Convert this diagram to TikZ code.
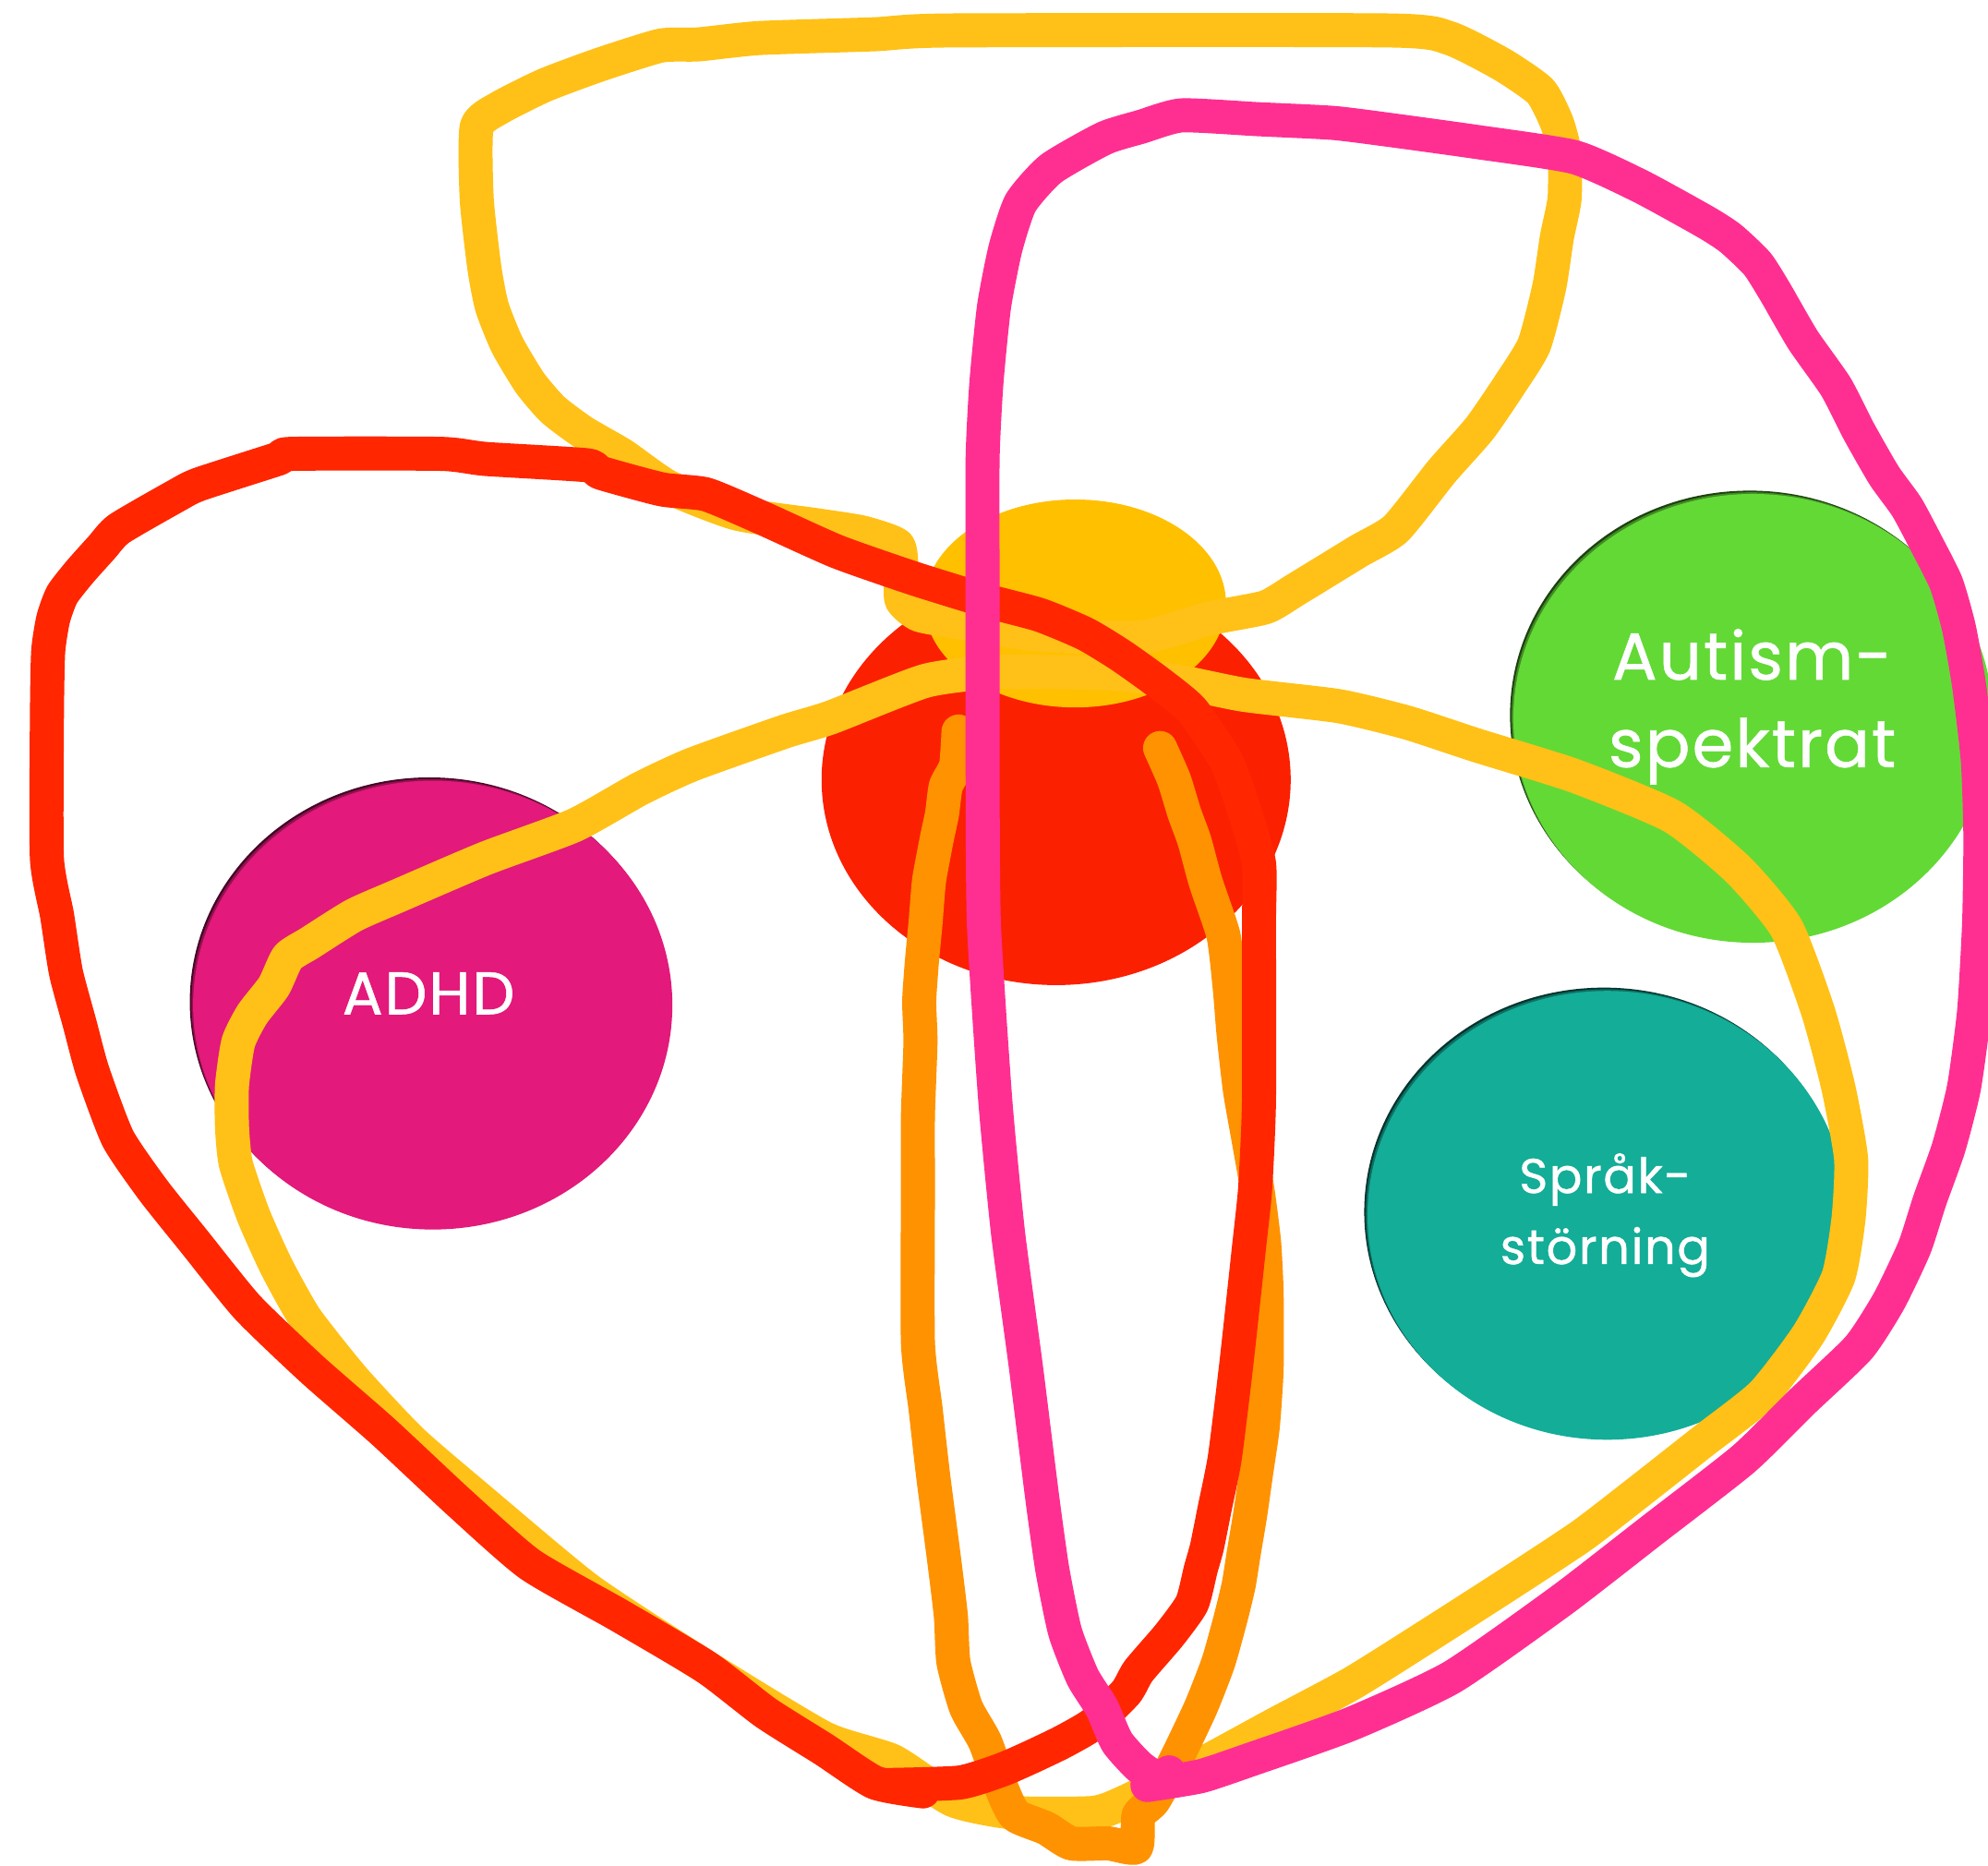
\documentclass[tikz,border=0pt]{standalone}
\usepackage{fontspec}
\newfontfamily\lblfont[LetterSpace=3.0,FakeBold=0.8]{Poppins}
\definecolor{cyel}{RGB}{255,193,23}
\definecolor{cyelell}{RGB}{255,192,0}
\definecolor{cora}{RGB}{255,146,0}
\definecolor{cred}{RGB}{255,38,0}
\definecolor{credell}{RGB}{251,32,0}
\definecolor{cpink}{RGB}{255,47,146}
\definecolor{cmag}{RGB}{227,25,123}
\definecolor{cgreen}{RGB}{99,217,54}
\definecolor{cteal}{RGB}{19,173,152}
\newcommand\shadell[4]{%
  \fill[#2!30!black] (#1) ellipse [x radius=#3, y radius=#4];
  \fill[#2!65!black] ([shift={(1.3,1.3)}]#1) ellipse [x radius=#3, y radius=#4];
  \fill[#2] ([shift={(2.6,2.6)}]#1) ellipse [x radius=#3, y radius=#4];}
\begin{document}
\begin{tikzpicture}[x=0.01373cm,y=-0.01373cm,
  pen/.style={line width=10.5pt,line cap=round,line join=round},
  lbl/.style={text=white,inner sep=0pt,anchor=base},
  big/.style={font=\lblfont\fontsize{20.5}{24}\selectfont},
  mid/.style={font=\lblfont\fontsize{18.5}{22}\selectfont},
  small/.style={font=\lblfont\fontsize{15}{18}\selectfont}]
\useasboundingbox (0,0) rectangle (1568,1471.2);
\fill[white] (0,0) rectangle (1568,1471.2);

% ellipses
\coordinate (adhd) at (338.7,790.2);
\coordinate (autism) at (1380,564);
\coordinate (sprak) at (1265,956);
\coordinate (redell) at (833,615);
\coordinate (yelell) at (848,476);
\shadell{adhd}{cmag}{189}{177}
\shadell{autism}{cgreen}{189}{177}
\shadell{sprak}{cteal}{189}{177}
\fill[credell] (redell) ellipse [x radius=185, y radius=162];
\fill[cyelell] (yelell) ellipse [x radius=119, y radius=82];

% yellow strokes
\draw[pen,cyel] plot[smooth cycle,tension=0.35] coordinates {
(711,450) (708,430) (680,420) (642,414) (581,405) (527,384) (491,359) (460,341) (436,323)
(418,302) (400,272) (388,242) (382,211) (376,157) (376,100) (394,85) (430,67) (473,51)
(521,36) (551,35) (599,30) (690,27) (750,24) (1095,24) (1143,30) (1185,51) (1215,72)
(1228,97) (1234,121) (1234,157) (1228,187) (1222,226) (1210,272) (1191,303) (1167,338)
(1137,372) (1101,417) (1071,435) (1022,465) (998,479) (953,488) (898,503) (814,500)
(758,491) (725,485) (711,473)};
\draw[pen,cyel] plot[smooth cycle,tension=0.35] coordinates {
(619,577) (655,566) (730,537) (786,530) (870,531) (926,537) (981,548) (1056,557)
(1110,570) (1165,588) (1242,612) (1319,644) (1371,686) (1409,732) (1434,798) (1450,858)
(1460,914) (1458,961) (1450,1007) (1426,1053) (1390,1100) (1343,1137) (1296,1174)
(1248,1211) (1192,1248) (1125,1291) (1066,1328) (1006,1360) (947,1392) (886,1422)
(862,1430) (801,1430) (752,1420) (704,1389) (650,1371) (557,1315) (464,1254) (381,1185)
(325,1137) (279,1088) (241,1040) (218,999) (200,959) (186,918) (183,889) (183,856)
(188,822) (199,800) (216,778) (227,755) (244,744) (279,722) (313,707) (383,677)
(453,651) (505,622) (546,603)};

% orange stroke
\draw[pen,cora] plot[smooth,tension=0.35] coordinates {
(756,577) (754,604) (746,620) (743,642) (739,661) (733,693) (731,715) (730,728)
(727,760) (725,790) (726,822) (724,880) (724,937) (724,1059) (730,1111) (736,1164)
(745,1233) (750,1275) (752,1311) (762,1347) (777,1374) (791,1413) (801,1432) (825,1442)
(845,1454) (874,1454) (896,1457) (898,1432) (910,1420) (927,1389) (947,1347) (961,1311)
(971,1275) (977,1250) (981,1225) (986,1195) (991,1160) (996,1125) (999,1080) (999,1020)
(997,980) (992,940) (985,900) (978,860) (973,816) (970,780) (965,738) (951,696)
(942,663) (934,641) (926,615) (915,590)};

% red stroke
\draw[pen,cred] plot[smooth,tension=0.35] coordinates {
(699,1408) (757,1406) (790,1396) (813,1386) (838,1374) (862,1360) (888,1335) (898,1318)
(922,1290) (940,1265) (947,1238) (952,1220) (958,1190) (966,1150) (975,1077) (985,985)
(990,937) (993,868) (993,728) (993,681) (981,638) (967,600) (940,560) (912,537)
(884,517) (856,500) (820,485) (775,473) (720,456) (660,435) (600,408) (557,390)
(522,386) (474,373) (463,367) (383,362) (348,358) (230,358) (219,362) (157,382)
(139,391) (94,417) (80,432) (63,451) (49,469) (42,488) (38,514) (37,566) (37,677)
(45,722) (52,767) (63,808) (73,845) (93,898) (121,939) (153,979) (195,1031) (246,1080)
(302,1129) (362,1185) (418,1234) (488,1274) (557,1315) (604,1351) (650,1380) (690,1406)
(728,1413)};

% pink stroke
\draw[pen,cpink] plot[smooth,tension=0.35] coordinates {
(905,1408) (947,1401) (986,1388) (1065,1360) (1145,1323) (1232,1262) (1303,1207)
(1375,1151) (1422,1105) (1466,1063) (1490,1026) (1510,984) (1522,947) (1537,905)
(1549,858) (1557,798) (1561,728) (1562,660) (1560,600) (1553,540) (1545,495)
(1535,460) (1520,430) (1504,400) (1486,375) (1466,340) (1448,305) (1422,268)
(1400,230) (1386,208) (1365,188) (1345,175) (1294,147) (1242,124) (1165,112)
(1100,103) (1052,97) (992,94) (932,91) (900,100) (871,109) (829,133) (805,160)
(793,196) (784,242) (778,302) (775,362) (775,473) (775,600) (776,728) (785,868)
(795,972) (809,1077) (822,1181) (830,1238) (840,1287) (854,1323) (869,1347)
(881,1374) (898,1393) (913,1403) (922,1398)};

% labels
\node[lbl,mid] (adhdtxt) at (338,800) {ADHD};
\node[lbl,big] (auttxta) at (1382,536) {Autism-};
\node[lbl,big] (auttxtb) at (1382,605) {spektrat};
\node[lbl,small] (sprtxta) at (1266,941) {Språk-};
\node[lbl,small] (sprtxtb) at (1266,997) {störning};
\end{tikzpicture}
\end{document}
